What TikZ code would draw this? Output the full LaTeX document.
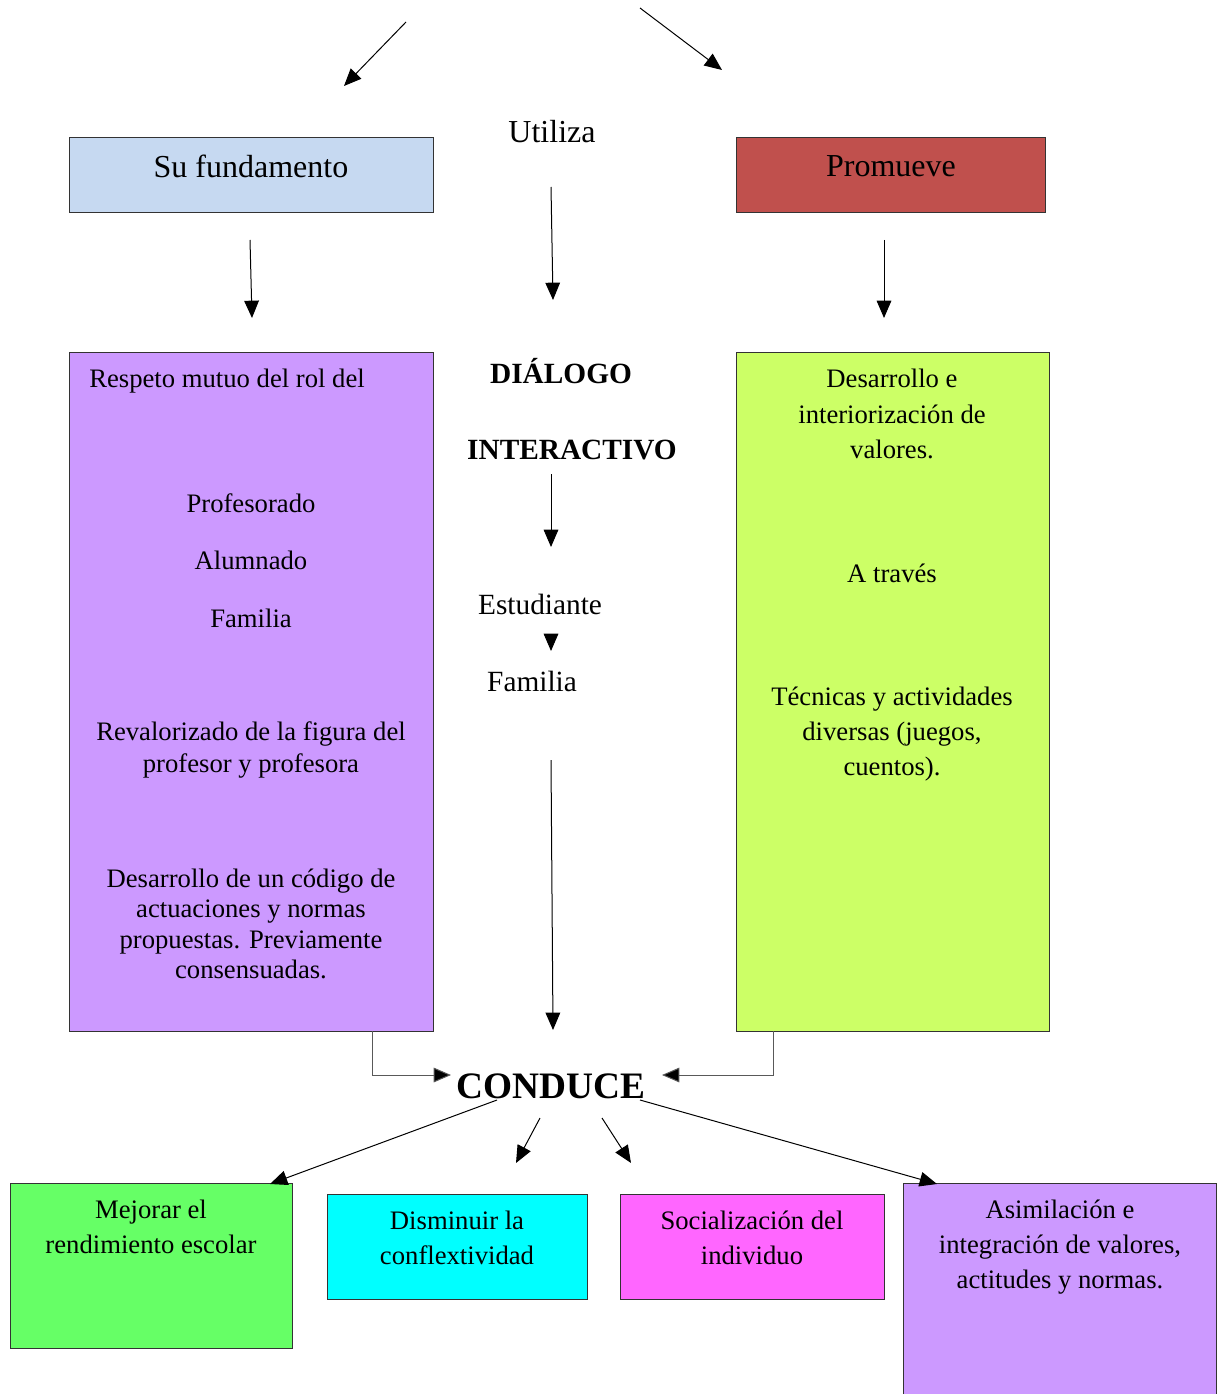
\documentclass[tikz,border=0pt]{standalone}
\usepackage{fontspec}
\setmainfont{Liberation Serif}
\usetikzlibrary{arrows.meta}
\definecolor{cBlue}{HTML}{C6D9F1}
\definecolor{cRed}{HTML}{C0504D}
\definecolor{cPurple}{HTML}{CC99FF}
\definecolor{cLime}{HTML}{CCFF66}
\definecolor{cGreen}{HTML}{66FF66}
\definecolor{cCyan}{HTML}{00FFFF}
\definecolor{cMag}{HTML}{FF66FF}
\begin{document}
\begin{tikzpicture}[x=0.75pt,y=-0.75pt,
  box/.style={draw=black!80,line width=0.75pt,inner sep=0pt,anchor=north west},
  arr/.style={draw=black,line width=0.75pt,-{Triangle[length=13pt,width=11pt]}},
  elb/.style={draw=black!65,line width=0.75pt,-{Triangle[length=13pt,width=11pt,fill=black]}},
  txt/.style={inner sep=0pt,font=\fontsize{20}{23}\selectfont,align=center},
  ttl/.style={inner sep=0pt,font=\fontsize{24}{28}\selectfont},
  mid/.style={inner sep=0pt,font=\fontsize{22}{26}\selectfont},
  midb/.style={inner sep=0pt,font=\fontsize{22}{26}\selectfont\bfseries}]
\useasboundingbox[fill=white] (0,0) rectangle (1220,1394);
% boxes
\node[box,fill=cBlue,minimum width=364*0.75pt,minimum height=75*0.75pt] (fund) at (69,137) {};
\node[box,fill=cRed,minimum width=309*0.75pt,minimum height=75*0.75pt] (prom) at (736,137) {};
\node[box,fill=cPurple,minimum width=364*0.75pt,minimum height=679*0.75pt] (lbox) at (69,352) {};
\node[box,fill=cLime,minimum width=313*0.75pt,minimum height=679*0.75pt] (rbox) at (736,352) {};
\node[box,fill=cGreen,minimum width=282*0.75pt,minimum height=165*0.75pt] (b1) at (10,1183) {};
\node[box,fill=cCyan,minimum width=260*0.75pt,minimum height=105*0.75pt] (b2) at (327,1194) {};
\node[box,fill=cMag,minimum width=264*0.75pt,minimum height=105*0.75pt] (b3) at (620,1194) {};
\node[box,fill=cPurple,minimum width=313*0.75pt,minimum height=220*0.75pt] (b4) at (903,1183) {};
% titles
\node[ttl] (tfund) at (251,166) {Su fundamento};
\node[ttl] (tprom) at (891,166) {Promueve};
\node[ttl] (util) at (552,132) {Utiliza};
% left box texts
\node[txt,anchor=west] (l1) at (89,381) {Respeto mutuo del rol del};
\node[txt] (l2) at (251,503) {Profesorado};
\node[txt] (l3) at (251,560) {Alumnado};
\node[txt] (l4) at (251,618) {Familia};
\node[txt,font=\fontsize{20}{23.6}\selectfont] (l5) at (251,750) {Revalorizado de la figura del\\profesor y profesora};
\node[txt,font=\fontsize{20}{22.9}\selectfont] (l6) at (251,924) {Desarrollo de un código de\\actuaciones y normas\\propuestas. Previamente\\consensuadas.};
% right box texts
\node[txt,font=\fontsize{20}{26.6}\selectfont] (r1) at (892,414) {Desarrollo e\\interiorización de\\valores.};
\node[txt] (r2) at (892,573) {A través};
\node[txt,font=\fontsize{20}{26.25}\selectfont] (r3) at (892,734) {Técnicas y actividades\\diversas (juegos,\\cuentos).};
% center texts
\node[midb] (dia) at (561,371) {DIÁLOGO};
\node[midb] (inter) at (572,450) {INTERACTIVO};
\node[mid] (est) at (540,604) {Estudiante};
\node[mid] (fam) at (532,681) {Familia};
\node[inner sep=0pt,font=\fontsize{28}{32}\selectfont\bfseries] (cond) at (551,1086) {CONDUCE};
% bottom texts
\node[txt,font=\fontsize{20}{26.25}\selectfont] (t1) at (151,1227) {Mejorar el\\rendimiento escolar};
\node[txt,font=\fontsize{20}{26.25}\selectfont] (t2) at (457,1238) {Disminuir la\\conflextividad};
\node[txt,font=\fontsize{20}{26.25}\selectfont] (t3) at (752,1238) {Socialización del\\individuo};
\node[txt,font=\fontsize{20}{26.25}\selectfont] (t4) at (1060,1247) {Asimilación e\\integración de valores,\\actitudes y normas.};
% coordinates
\coordinate (a1s) at (406,22); \coordinate (a1e) at (344,86);
\coordinate (a2s) at (640,8); \coordinate (a2e) at (722,70);
\coordinate (a3s) at (250,240); \coordinate (a3e) at (252,318);
\coordinate (a4s) at (551,187); \coordinate (a4e) at (553,300);
\coordinate (a5s) at (884,240); \coordinate (a5e) at (884,318);
\coordinate (a6s) at (551,474); \coordinate (a6e) at (551,547);
\coordinate (a7s) at (551,634); \coordinate (a7e) at (551,651);
\coordinate (a8s) at (551,760); \coordinate (a8e) at (553,1030);
\coordinate (a9s) at (372,1031); \coordinate (a9e) at (451,1075);
\coordinate (a10s) at (773,1031); \coordinate (a10e) at (662,1075);
\coordinate (c1s) at (497,1100); \coordinate (c1e) at (270,1184);
\coordinate (c2s) at (540,1118); \coordinate (c2e) at (516,1163);
\coordinate (c3s) at (602,1118); \coordinate (c3e) at (631,1163);
\coordinate (c4s) at (640,1100); \coordinate (c4e) at (937,1184);
% arrows
\draw[arr] (a1s) -- (a1e);
\draw[arr] (a2s) -- (a2e);
\draw[arr] (a3s) -- (a3e);
\draw[arr] (a4s) -- (a4e);
\draw[arr] (a5s) -- (a5e);
\draw[arr] (a6s) -- (a6e);
\draw[arr] (a7s) -- (a7e);
\draw[arr] (a8s) -- (a8e);
\draw[elb] (a9s) |- (a9e);
\draw[elb] (a10s) |- (a10e);
\draw[arr] (c1s) -- (c1e);
\draw[arr] (c2s) -- (c2e);
\draw[arr] (c3s) -- (c3e);
\draw[arr] (c4s) -- (c4e);
\end{tikzpicture}
\end{document}
